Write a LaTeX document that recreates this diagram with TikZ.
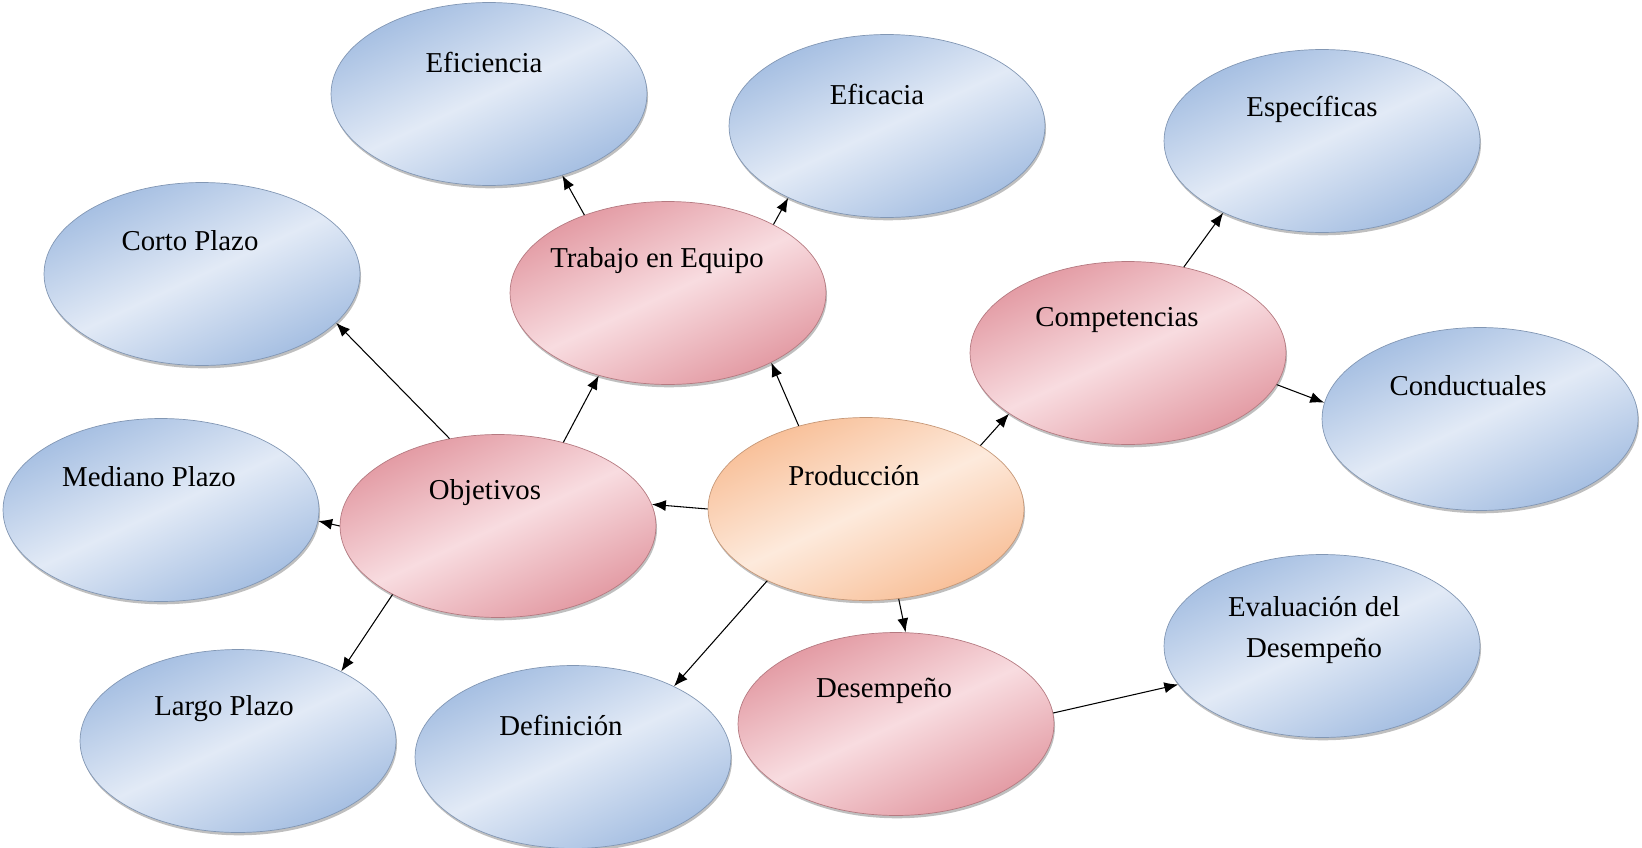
\documentclass[tikz,border=0pt]{standalone}
\usepackage{fontspec}
\setmainfont{Liberation Serif}
\usetikzlibrary{shapes.geometric, shadows, arrows.meta}

\definecolor{azulosc}{RGB}{163,189,225}
\definecolor{azulcla}{RGB}{226,234,246}
\definecolor{rosaosc}{RGB}{226,152,161}
\definecolor{rosacla}{RGB}{248,220,224}
\definecolor{narosc}{RGB}{248,190,150}
\definecolor{narcla}{RGB}{253,234,220}

\tikzset{
  burbuja/.style={ellipse, minimum width=6.32cm, minimum height=3.66cm, inner sep=0pt,
    line width=0.4pt,
    drop shadow={shadow xshift=0.6pt, shadow yshift=-1.6pt, fill=black, opacity=0.25}},
  azul/.style={burbuja, draw=azulosc!80!black, top color=azulosc, bottom color=azulosc, middle color=azulcla, shading angle=25},
  rosa/.style={burbuja, draw=rosaosc!80!black, top color=rosaosc, bottom color=rosaosc, middle color=rosacla, shading angle=25},
  naranja/.style={burbuja, draw=narosc!80!black, top color=narosc, bottom color=narosc, middle color=narcla, shading angle=25},
  texto/.style={font=\fontsize{16.4}{23}\selectfont, align=center, inner sep=0pt},
  flecha/.style={-{Latex[length=2.8mm,width=2.2mm]}, line width=0.6pt}
}

\begin{document}
\begin{tikzpicture}[x=0.02cm, y=-0.02cm]
\useasboundingbox (0,0) rectangle (1642,848);

% burbujas
\node[azul] (efi) at (489,94) {};
\node[azul] (efa) at (887,126) {};
\node[azul] (esp) at (1322,141) {};
\node[azul] (cor) at (202,274) {};
\node[rosa] (tra) at (668,293) {};
\node[rosa] (com) at (1128,353) {};
\node[azul] (con) at (1480,419) {};
\node[azul] (med) at (161,510) {};
\node[rosa] (obj) at (498,526) {};
\node[naranja] (pro) at (866,509) {};
\node[azul] (eva) at (1322,646) {};
\node[azul] (lar) at (238,741) {};
\node[azul] (def) at (573,757) {};
\node[rosa] (des) at (896,724) {};

% textos
\node[texto] (tefi) at ([shift={(-5,-32)}]efi.center) {Eficiencia};
\node[texto] (tefa) at ([shift={(-10,-32)}]efa.center) {Eficacia};
\node[texto] (tesp) at ([shift={(-10,-32)}]esp.center) {Específicas};
\node[texto] (tcor) at ([shift={(-12,-33)}]cor.center) {Corto Plazo};
\node[texto] (ttra) at ([shift={(-11,-32)}]tra.center) {Trabajo en Equipo};
\node[texto] (tcom) at ([shift={(-11,-33)}]com.center) {Competencias};
\node[texto] (tcon) at ([shift={(-12,-33)}]con.center) {Conductuales};
\node[texto] (tmed) at ([shift={(-12,-33)}]med.center) {Mediano Plazo};
\node[texto] (tobj) at ([shift={(-13,-33)}]obj.center) {Objetivos};
\node[texto] (tpro) at ([shift={(-12,-33)}]pro.center) {Producción};
\node[texto] (teva) at ([shift={(-8,-16)}]eva.center) {Evaluación del\\Desempeño};
\node[texto] (tlar) at ([shift={(-14,-32)}]lar.center) {Largo Plazo};
\node[texto] (tdef) at ([shift={(-12,-32)}]def.center) {Definición};
\node[texto] (tdes) at ([shift={(-12,-33)}]des.center) {Desempeño};

% flechas
\draw[flecha] (tra.137) -- (efi.-48);
\draw[flecha] (tra.33) -- (efa.216);
\draw[flecha] (pro.129) -- (tra.-34);
\draw[flecha] (obj.52) -- (tra.230);
\draw[flecha] (obj.119) -- (cor.-20);
\draw[flecha] (obj.180) -- (med.-4);
\draw[flecha] (obj.213) -- (lar.34);
\draw[flecha] (pro.180) -- (obj.8);
\draw[flecha] (pro.216) -- (def.35);
\draw[flecha] (pro.-70) -- (des.84);
\draw[flecha] (pro.29) -- (com.207);
\draw[flecha] (com.57) -- (esp.216);
\draw[flecha] (com.-12) -- (con.174);
\draw[flecha] (des.4) -- (eva.195);
\end{tikzpicture}
\end{document}
